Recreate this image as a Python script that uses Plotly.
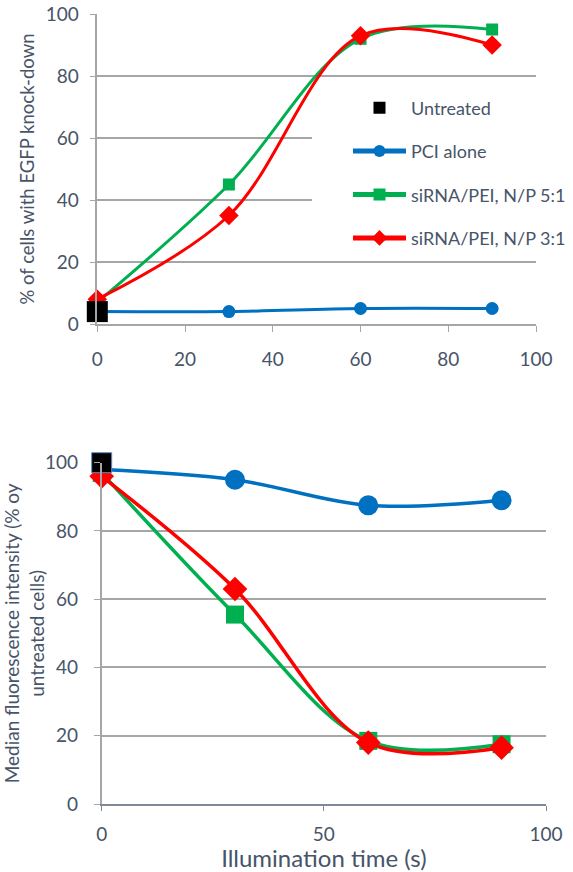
import plotly.graph_objects as go

# ---------------- data ----------------
times = [0, 30, 60, 90]
untreated_x = [0]

kd_untreated = [4]
kd_pci = [4, 4, 5, 5]
kd_np51 = [7, 45, 92, 95]
kd_np31 = [8, 35, 93, 90]

mfi_untreated = [100]
mfi_pci = [98, 95, 87.5, 89]
mfi_np51 = [97, 55.5, 18.5, 17.5]
mfi_np31 = [96, 63, 18, 16.5]

names = ["Untreated", "PCI alone", "siRNA/PEI, N/P 5:1", "siRNA/PEI, N/P 3:1"]
top_ticks = [0, 20, 40, 60, 80, 100]
bottom_xticks = [0, 50, 100]
bottom_yticks = [0, 20, 40, 60, 80, 100]

BLUE = "#0070C0"
GREEN = "#00B050"
RED = "#FF0000"
BLACK = "#000000"
TXT = "#475469"
GRID = "#a6a6a6"

W, H = 573, 872
FONT = "Lato"

fig = go.Figure()

# ---------- top chart ----------
fig.add_trace(go.Scatter(x=times, y=kd_pci, name=names[1], mode="lines+markers",
                         line=dict(color=BLUE, width=3, shape="spline"),
                         marker=dict(symbol="circle", size=13, color=BLUE),
                         legendgroup="b", legendrank=2, cliponaxis=False,
                         xaxis="x", yaxis="y"))
fig.add_trace(go.Scatter(x=times, y=kd_np51, name=names[2], mode="lines+markers",
                         line=dict(color=GREEN, width=3, shape="spline"),
                         marker=dict(symbol="square", size=12, color=GREEN),
                         legendgroup="c", legendrank=3, cliponaxis=False,
                         xaxis="x", yaxis="y"))
fig.add_trace(go.Scatter(x=times, y=kd_np31, name=names[3], mode="lines+markers",
                         line=dict(color=RED, width=3, shape="spline"),
                         marker=dict(symbol="diamond", size=15, color=RED),
                         legendgroup="d", legendrank=4, cliponaxis=False,
                         xaxis="x", yaxis="y"))
fig.add_trace(go.Scatter(x=untreated_x, y=kd_untreated, name=names[0], mode="markers",
                         marker=dict(symbol="square", size=21, color=BLACK),
                         legendgroup="a", legendrank=1, cliponaxis=False,
                         xaxis="x", yaxis="y"))

# ---------- bottom chart ----------
fig.add_trace(go.Scatter(x=times, y=mfi_pci, name=names[1], mode="lines+markers",
                         line=dict(color=BLUE, width=3.5, shape="spline"),
                         marker=dict(symbol="circle", size=20, color=BLUE),
                         showlegend=False, cliponaxis=False, xaxis="x2", yaxis="y2"))
fig.add_trace(go.Scatter(x=times, y=mfi_np51, name=names[2], mode="lines+markers",
                         line=dict(color=GREEN, width=3.5, shape="spline"),
                         marker=dict(symbol="square", size=18, color=GREEN),
                         showlegend=False, cliponaxis=False, xaxis="x2", yaxis="y2"))
fig.add_trace(go.Scatter(x=times, y=mfi_np31, name=names[3], mode="lines+markers",
                         line=dict(color=RED, width=3.5, shape="spline"),
                         marker=dict(symbol="diamond", size=19, color=RED),
                         showlegend=False, cliponaxis=False, xaxis="x2", yaxis="y2"))
fig.add_trace(go.Scatter(x=untreated_x, y=mfi_untreated, name=names[0], mode="markers",
                         marker=dict(symbol="square", size=20, color=BLACK,
                                     line=dict(color="#5b8ec9", width=1)),
                         showlegend=False, cliponaxis=False, xaxis="x2", yaxis="y2"))

tickfont = dict(family=FONT, size=19, color=TXT)

fig.update_layout(
    width=W, height=H,
    margin=dict(l=0, r=0, t=0, b=0, autoexpand=False),
    paper_bgcolor="white", plot_bgcolor="white",
    font=dict(family=FONT, color=TXT, size=18),
    xaxis=dict(domain=[97.3 / W, 536 / W], anchor="y", range=[0, 100], automargin=False,
               tickvals=top_ticks, ticks="outside", ticklen=6, tickcolor=GRID,
               showline=True, linecolor=GRID, linewidth=1.5, showgrid=False,
               zeroline=False, tickfont=tickfont, ticklabelstandoff=11),
    yaxis=dict(domain=[1 - 324 / H, 1 - 14 / H], anchor="x", range=[0, 100], automargin=False,
               tickvals=top_ticks, ticks="outside", ticklen=6, tickcolor=GRID,
               showline=True, linecolor=GRID, linewidth=1.5, showgrid=True,
               gridcolor=GRID, gridwidth=1.5, zeroline=False, tickfont=tickfont,
               ticklabelstandoff=7,
               title=dict(text="% of cells with EGFP knock-down",
                          font=dict(family=FONT, size=18.5, color=TXT), standoff=6)),
    xaxis2=dict(domain=[101.7 / W, 546 / W], anchor="y2", range=[0, 100], automargin=False,
                tickvals=bottom_xticks, ticks="outside", ticklen=5, tickcolor="#7f8a99",
                showline=True, linecolor="#7f8a99", linewidth=2, showgrid=False,
                zeroline=False, tickfont=tickfont, ticklabelstandoff=7,
                title=dict(text="Illumination time (s)",
                           font=dict(family=FONT, size=24, color=TXT), standoff=9)),
    yaxis2=dict(domain=[1 - 804 / H, 1 - 462.7 / H], anchor="x2", range=[0, 100], automargin=False,
                tickvals=bottom_yticks, ticks="outside", ticklen=6, tickcolor=GRID,
                showline=True, linecolor=GRID, linewidth=1.5, showgrid=True,
                gridcolor=GRID, gridwidth=1.5, zeroline=False, tickfont=tickfont,
                ticklabelstandoff=12,
                title=dict(text="Median fluorescence intensity (% oy<br>untreated cells)",
                           font=dict(family=FONT, size=19, color=TXT), standoff=4)),
    showlegend=True,
    legend=dict(x=312 / W, xanchor="left", y=1 - 89.5 / H, yanchor="top",
                xref="paper", yref="paper",
                bgcolor="white", borderwidth=0, indentation=36, itemwidth=53,
                font=dict(family=FONT, size=18, color=TXT),
                tracegroupgap=17, itemsizing="constant", traceorder="grouped"),
)

fig.write_html("out.html", config={"displayModeBar": False},
               post_script="document.body.style.margin='0px';")
